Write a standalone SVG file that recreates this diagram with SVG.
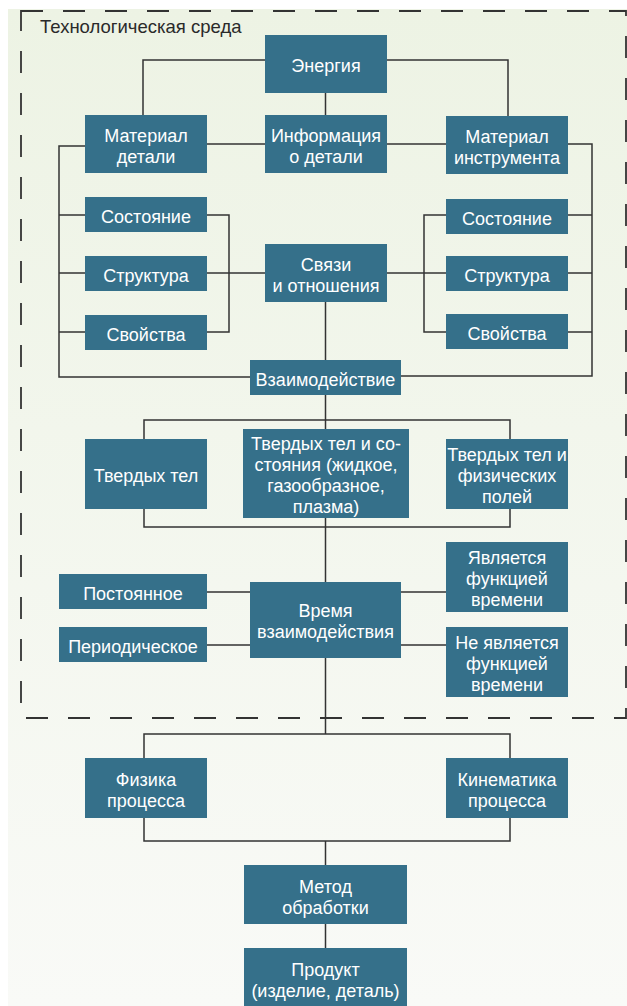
<svg xmlns="http://www.w3.org/2000/svg" width="627" height="1006" viewBox="0 0 627 1006">
<defs>
<linearGradient id="bg" x1="0" y1="0" x2="0" y2="1">
<stop offset="0" stop-color="#edf3e4"/>
<stop offset="1" stop-color="#f9faf7"/>
</linearGradient>
<style>
.box{fill:#35708a}
.t{font-family:"Liberation Sans",Arial,sans-serif;font-size:18px;fill:#ffffff;text-anchor:middle}
.title{font-family:"Liberation Sans",Arial,sans-serif;font-size:18.5px;fill:#2a2a2a}
.ln{fill:none;stroke:#333333;stroke-width:1.5}
.dash{fill:none;stroke:#333333;stroke-width:1.8;stroke-dasharray:22 20}
</style>
</defs>
<rect x="0" y="0" width="627" height="1006" fill="#ffffff"/>
<rect x="8" y="9" width="619" height="997" fill="url(#bg)"/>
<g id="env">
<rect class="dash" x="21" y="11" width="605" height="707"/>
<text class="title" x="40" y="33">Технологическая среда</text>
</g>
<g id="connectors">
<path class="ln" d="M265,60 H143 V115"/>
<path class="ln" d="M387,60 H508 V116"/>
<path class="ln" d="M325.5,93 V115"/>
<path class="ln" d="M207,144 H265"/>
<path class="ln" d="M387,144 H446"/>
<path class="ln" d="M85,146 H59 V377 H250"/>
<path class="ln" d="M59,215 H85 M59,273 H85 M59,332 H85"/>
<path class="ln" d="M207,215 H229 V332 H207"/>
<path class="ln" d="M207,273 H265"/>
<path class="ln" d="M446,215 H424 V332 H446"/>
<path class="ln" d="M387,273 H446"/>
<path class="ln" d="M568,144 H592 V376 H401"/>
<path class="ln" d="M568,215 H592 M568,273 H592 M568,332 H592"/>
<path class="ln" d="M325.5,302 V360"/>
<path class="ln" d="M325.5,395 V582"/>
<path class="ln" d="M144,439 V420 H510 V439"/>
<path class="ln" d="M144,509 V527 H510 V509"/>
<path class="ln" d="M207,592 H250 M207,645 H250"/>
<path class="ln" d="M401,592 H446 M401,645 H446"/>
<path class="ln" d="M325.5,658 V734"/>
<path class="ln" d="M144,758 V734 H510 V758"/>
<path class="ln" d="M144,818 V841 H510 V818"/>
<path class="ln" d="M325.5,841 V865"/>
<path class="ln" d="M325.5,924 V948"/>
</g>
<g id="energy"><rect class="box" x="265" y="35" width="122" height="58"/><text class="t" x="326" y="72">Энергия</text></g>
<g id="mat-detail"><rect class="box" x="85" y="115" width="122" height="58"/><text class="t" x="146" y="141.5">Материал</text><text class="t" x="146" y="162.5">детали</text></g>
<g id="info"><rect class="box" x="265" y="115" width="122" height="58"/><text class="t" x="326" y="141.5">Информация</text><text class="t" x="326" y="162.5">о детали</text></g>
<g id="mat-tool"><rect class="box" x="446" y="116" width="122" height="58"/><text class="t" x="507" y="142.5">Материал</text><text class="t" x="507" y="163.5">инструмента</text></g>
<g id="state-l"><rect class="box" x="85" y="197" width="122" height="35"/><text class="t" x="146" y="222.5">Состояние</text></g>
<g id="struct-l"><rect class="box" x="85" y="256" width="122" height="35"/><text class="t" x="146" y="281.5">Структура</text></g>
<g id="props-l"><rect class="box" x="85" y="315" width="122" height="35"/><text class="t" x="146" y="340.5">Свойства</text></g>
<g id="links"><rect class="box" x="265" y="244" width="122" height="58"/><text class="t" x="326" y="270.5">Связи</text><text class="t" x="326" y="291.5">и отношения</text></g>
<g id="state-r"><rect class="box" x="446" y="199" width="122" height="35"/><text class="t" x="507" y="224.5">Состояние</text></g>
<g id="struct-r"><rect class="box" x="446" y="256" width="122" height="35"/><text class="t" x="507" y="281.5">Структура</text></g>
<g id="props-r"><rect class="box" x="446" y="314" width="122" height="35"/><text class="t" x="507" y="339.5">Свойства</text></g>
<g id="interaction"><rect class="box" x="250" y="360" width="151" height="35"/><text class="t" x="325.5" y="385.5">Взаимодействие</text></g>
<g id="solids"><rect class="box" x="85" y="439" width="122" height="70"/><text class="t" x="146" y="482">Твердых тел</text></g>
<g id="solids-states"><rect class="box" x="243" y="429" width="166" height="89"/><text class="t" x="326" y="450">Твердых тел и со-</text><text class="t" x="326" y="471">стояния (жидкое,</text><text class="t" x="326" y="492">газообразное,</text><text class="t" x="326" y="513">плазма)</text></g>
<g id="solids-fields"><rect class="box" x="446" y="439" width="122" height="70"/><text class="t" x="507" y="461">Твердых тел и</text><text class="t" x="507" y="482">физических</text><text class="t" x="507" y="503">полей</text></g>
<g id="constant"><rect class="box" x="59" y="574" width="148" height="35"/><text class="t" x="133" y="599.5">Постоянное</text></g>
<g id="periodic"><rect class="box" x="59" y="627" width="148" height="35"/><text class="t" x="133" y="652.5">Периодическое</text></g>
<g id="time"><rect class="box" x="250" y="582" width="151" height="76"/><text class="t" x="325.5" y="617">Время</text><text class="t" x="325.5" y="638">взаимодействия</text></g>
<g id="is-func"><rect class="box" x="446" y="542" width="122" height="70"/><text class="t" x="507" y="564">Является</text><text class="t" x="507" y="585">функцией</text><text class="t" x="507" y="606">времени</text></g>
<g id="not-func"><rect class="box" x="446" y="627" width="122" height="70"/><text class="t" x="507" y="649">Не является</text><text class="t" x="507" y="670">функцией</text><text class="t" x="507" y="691">времени</text></g>
<g id="physics"><rect class="box" x="85" y="758" width="122" height="60"/><text class="t" x="146" y="785.5">Физика</text><text class="t" x="146" y="806.5">процесса</text></g>
<g id="kinematics"><rect class="box" x="446" y="758" width="122" height="60"/><text class="t" x="507" y="785.5">Кинематика</text><text class="t" x="507" y="806.5">процесса</text></g>
<g id="method"><rect class="box" x="244" y="865" width="163" height="59"/><text class="t" x="325.5" y="892.5">Метод</text><text class="t" x="325.5" y="913.5">обработки</text></g>
<g id="product"><rect class="box" x="244" y="948" width="163" height="58"/><text class="t" x="325.5" y="975.5">Продукт</text><text class="t" x="325.5" y="996.5">(изделие, деталь)</text></g>
</svg>
